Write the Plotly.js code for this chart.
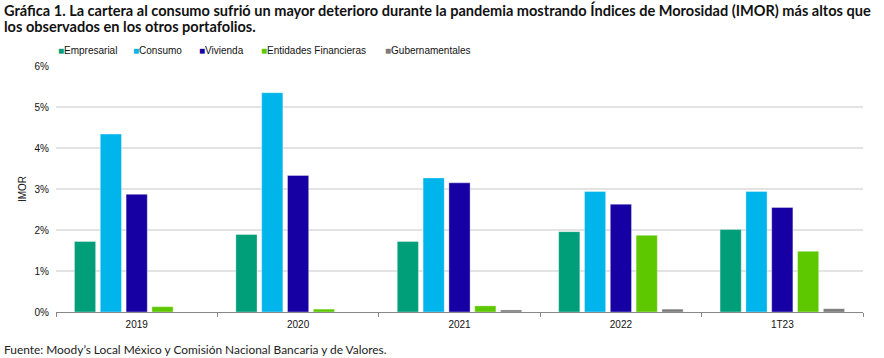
<!DOCTYPE html>
<html>
<head>
<meta charset="utf-8">
<script src="https://cdn.plot.ly/plotly-3.0.1.min.js"></script>
<style>html,body{margin:0;padding:0;background:#fff;}#chart{width:884px;height:358px;}</style>
</head>
<body>
<div id="chart"></div>
<script>
const categories = ["2019", "2020", "2021", "2022", "1T23"];
const seriesNames = ["Empresarial", "Consumo", "Vivienda", "Entidades Financieras", "Gubernamentales"];
const empresarial = [1.72, 1.89, 1.72, 1.96, 2.01];
const consumo = [4.34, 5.35, 3.27, 2.94, 2.94];
const vivienda = [2.87, 3.33, 3.15, 2.63, 2.55];
const entidades = [0.13, 0.07, 0.15, 1.87, 1.48];
const gubernamentales = [0, 0, 0.05, 0.07, 0.08];
const yTickVals = [0, 1, 2, 3, 4, 5, 6];
const yTickText = ["0%", "1%", "2%", "3%", "4%", "5%", "6%"];
const colors = ["#009E79", "#00B4EC", "#1700A3", "#5DC800", "#7A7A7A"];
const titleLines = [
  "Gráfica 1. La cartera al consumo sufrió un mayor deterioro durante la pandemia mostrando Índices de Morosidad (IMOR) más altos que",
  "los observados en los otros portafolios."
];
const sourceText = "Fuente: Moody’s Local México y Comisión Nacional Bancaria y de Valores.";

const values = [empresarial, consumo, vivienda, entidades, gubernamentales];
const traces = values.map((v, i) => ({
  type: "bar",
  name: seriesNames[i],
  x: categories,
  y: v,
  marker: {color: colors[i], line: {color: "rgba(255,255,255,0.35)", width: 1}},
  showlegend: false,
  hoverinfo: "skip"
}));

// pixel helpers for paper coordinates (plot area: x 56..863, y 66..312)
const px = x => (x - 56) / 807;
const py = y => (312 - y) / 246;

const legendX = [56, 131, 197, 259, 383];
const annotations = seriesNames.map((n, i) => ({
  xref: "paper", yref: "paper",
  x: px(legendX[i]), y: py(51),
  xanchor: "left", yanchor: "middle",
  showarrow: false,
  text: '<span style="color:' + colors[i] + '">■</span>' + n,
  font: {family: "Liberation Sans, Arial, sans-serif", size: 10, color: "#111"}
}));
titleLines.forEach((t, i) => annotations.push({
  xref: "paper", yref: "paper",
  x: px(2), y: py(10 + 16 * i),
  xanchor: "left", yanchor: "middle",
  showarrow: false,
  text: "<b>" + t + "</b>",
  font: {family: "Lato, sans-serif", size: 14.55, color: "#111"}
}));
annotations.push({
  xref: "paper", yref: "paper",
  x: px(2), y: py(349),
  xanchor: "left", yanchor: "middle",
  showarrow: false,
  text: sourceText,
  font: {family: "Lato, sans-serif", size: 11.9, color: "#222"}
});

const layout = {
  width: 884, height: 358,
  margin: {l: 56, r: 21, t: 66, b: 46},
  paper_bgcolor: "#fff", plot_bgcolor: "#fff",
  bargap: 0.2, bargroupgap: 0.18,
  xaxis: {
    type: "category",
    showline: true, linecolor: "#888", linewidth: 1,
    ticks: "outside", tickson: "boundaries", ticklen: 4, tickcolor: "#888",
    showgrid: false,
    ticklabelstandoff: 3,
    tickfont: {family: "Liberation Sans, Arial, sans-serif", size: 10, color: "#111"}
  },
  yaxis: {
    range: [0, 6],
    tickvals: yTickVals, ticktext: yTickText,
    showgrid: true, gridcolor: "#e3e3e3", gridwidth: 1.5,
    zeroline: false, showline: false, ticks: "",
    ticklabelstandoff: 6,
    tickfont: {family: "Liberation Sans, Arial, sans-serif", size: 10, color: "#111"},
    title: {text: "IMOR", standoff: 6, font: {family: "Liberation Sans, Arial, sans-serif", size: 10, color: "#111"}}
  },
  annotations: annotations
};

Plotly.newPlot("chart", traces, layout, {displayModeBar: false, staticPlot: true});
</script>
</body>
</html>
